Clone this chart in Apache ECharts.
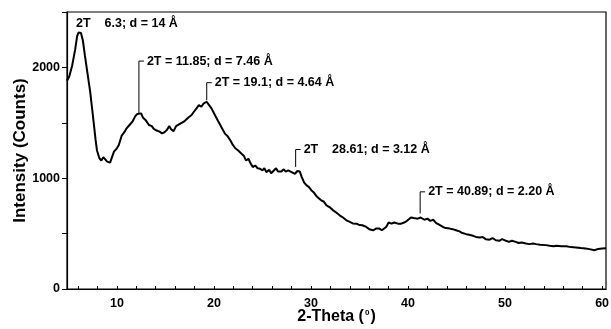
<!DOCTYPE html>
<html>
<head>
<meta charset="utf-8">
<script src="https://cdn.jsdelivr.net/npm/echarts@6/dist/echarts.min.js"></script>
<style>
  html, body { margin: 0; padding: 0; background: #fff; }
  #chart { width: 611px; height: 329px; }
</style>
</head>
<body>
<div id="chart"></div>
<script>
// XRD pattern
const twoTheta = [
  4.86, 5.1, 5.4, 5.7, 5.9, 6.05, 6.3, 6.5, 6.7, 6.95, 7.25, 7.6, 7.8, 7.95, 8.2, 8.4, 8.6, 8.8, 9.0, 9.3,
  9.5, 9.7, 10.0, 10.2, 10.5, 10.8, 11.0, 11.3, 11.6, 11.9, 12.1, 12.3, 12.5, 12.7, 13.0, 13.3, 13.6, 13.8,
  14.1, 14.4, 14.65, 14.9, 15.15, 15.4, 15.6, 15.85, 16.1, 16.4, 16.6, 16.9, 17.1, 17.4, 17.7, 17.9, 18.2,
  18.45, 18.7, 18.95, 19.25, 19.5, 19.75, 20.1, 20.4, 20.65, 20.9, 21.15, 21.4, 21.7, 21.95, 22.2, 22.5,
  22.85, 23.1, 23.3, 23.55, 23.8, 24.0, 24.25, 24.5, 24.75, 25.0, 25.2, 25.4, 25.7, 25.9, 26.1, 26.4, 26.6,
  26.95, 27.2, 27.4, 27.65, 27.9, 28.1, 28.35, 28.6, 28.85, 29.05, 29.3, 29.55, 29.8, 30.05, 30.3, 30.55,
  30.8, 31.05, 31.3, 31.6, 31.9, 32.25, 32.6, 32.95, 33.3, 33.65, 34.0, 34.3, 34.7, 35.0, 35.3, 35.7, 36.0,
  36.4, 36.7, 37.05, 37.3, 37.75, 38.0, 38.3, 38.6, 38.95, 39.3, 39.6, 39.9, 40.3, 40.6, 41.0, 41.3, 41.7,
  42.0, 42.3, 42.6, 42.9, 43.2, 43.6, 43.9, 44.3, 44.6, 44.95, 45.3, 45.6, 46.0, 46.3, 46.7, 47.0, 47.4,
  47.7, 48.0, 48.4, 48.7, 49.05, 49.4, 49.7, 50.1, 50.4, 50.7, 51.1, 51.4, 51.7, 52.15, 52.5, 52.9, 53.2,
  53.6, 54.2, 54.6, 55.0, 55.3, 55.8, 56.3, 56.8, 57.3, 57.8, 58.3, 58.7, 59.2, 59.6, 60.0, 60.4
];
const counts = [
  1880, 1920, 2020, 2160, 2280, 2315, 2310, 2240, 2110, 1960, 1780, 1510, 1350, 1250, 1180, 1160, 1190, 1180, 1150, 1140,
  1190, 1240, 1270, 1300, 1385, 1420, 1450, 1480, 1510, 1560, 1580, 1570, 1585, 1545, 1520, 1480, 1470, 1445,
  1430, 1420, 1405, 1415, 1435, 1470, 1440, 1425, 1470, 1485, 1480, 1510, 1505, 1550, 1570, 1595, 1630,
  1660, 1645, 1675, 1690, 1660, 1630, 1570, 1520, 1480, 1440, 1400, 1380, 1340, 1300, 1270, 1250,
  1220, 1200, 1160, 1175, 1130, 1100, 1115, 1090, 1085, 1070, 1090, 1055, 1075, 1045, 1040, 1090, 1060,
  1060, 1080, 1060, 1070, 1060, 1050, 1040, 1065, 1060, 1010, 960, 935, 920, 890, 870, 840,
  820, 800, 790, 755, 740, 712, 690, 665, 645, 620, 605, 592, 590, 577, 575, 560, 540,
  530, 545, 545, 530, 560, 600, 590, 600, 590, 590, 600, 615, 645, 640, 635, 645, 625,
  635, 615, 625, 595, 580, 560, 550, 545, 540, 530, 520, 505, 495, 490, 480, 470, 465,
  470, 450, 445, 460, 440, 435, 450, 435, 425, 435, 425, 415, 420, 410, 405, 410, 405,
  400, 396, 390, 385, 390, 385, 385, 378, 375, 370, 366, 360, 350, 362, 365, 368
];

// tick labels / tick positions
const xLabels = [10, 20, 30, 40, 50, 60];
const xTicks = [6, 8, 10, 12, 14, 16, 18, 20, 22, 24, 26, 28, 30, 32, 34, 36, 38, 40, 42, 44, 46, 48, 50, 52, 54, 56, 58, 60];
const yLabels = [0, 1000, 2000];
const yTicks = [0, 500, 1000, 1500, 2000, 2500];

// peak annotations: leader line from annLow up to annHigh, text to the right
const annX = [5.8, 12.27, 19.26, 28.42, 41.25];
const annLow = [null, 1583, 1703, 1102, 682];
const annHigh = [2400, 2057, 1862, 1259, 877];
const annText = [
  '2T    6.3; d = 14 Å',
  '2T = 11.85; d = 7.46 Å',
  '2T = 19.1; d = 4.64 Å',
  '2T    28.61; d = 3.12 Å',
  '2T = 40.89; d = 2.20 Å'
];

const FONT = "'Liberation Sans', Arial, sans-serif";

const chart = echarts.init(document.getElementById('chart'), null, { renderer: 'canvas' });

const lineData = twoTheta.map((x, i) => [x, counts[i]]);
const annData = annX.map((x, i) => [x, annHigh[i], annLow[i] == null ? annHigh[i] : annLow[i]]);

chart.setOption({
  animation: false,
  backgroundColor: '#fff',
  grid: {
    left: 67, right: 5, top: 12, bottom: 40,
    outerBoundsMode: 'none',
    containLabel: false,
    show: true, borderColor: '#000', borderWidth: 1.2, backgroundColor: 'transparent'
  },
  xAxis: {
    type: 'value', min: 4.86, max: 60.4,
    name: '2-Theta ({sup|0})',
    nameLocation: 'middle', nameGap: 20, nameMoveOverlap: false,
    nameTextStyle: {
      fontFamily: FONT, fontWeight: 'bold', fontSize: 16, color: '#000',
      rich: { sup: { fontFamily: FONT, fontWeight: 'bold', fontSize: 8, color: '#000', verticalAlign: 'top', padding: [0, 1, 7, 1] } }
    },
    axisLine: { show: true, lineStyle: { color: '#000', width: 1.2 } },
    axisTick: { show: true, inside: true, length: 3, customValues: xTicks, lineStyle: { color: '#000' } },
    axisLabel: {
      customValues: xLabels, margin: 8, fontFamily: FONT, fontWeight: 'bold', fontSize: 12.5, color: '#000',
      formatter: (v) => String(v)
    },
    splitLine: { show: false }
  },
  yAxis: {
    type: 'value', min: 0, max: 2500,
    name: 'Intensity (Counts)',
    nameLocation: 'middle', nameGap: 38, nameRotate: 90, nameMoveOverlap: false,
    nameTextStyle: { fontFamily: FONT, fontWeight: 'bold', fontSize: 17, color: '#000' },
    axisLine: { show: true, lineStyle: { color: '#000', width: 1.2 } },
    axisTick: { show: true, inside: false, length: 5, customValues: yTicks, lineStyle: { color: '#000' } },
    axisLabel: {
      customValues: yLabels, margin: 7, fontFamily: FONT, fontWeight: 'bold', fontSize: 12.5, color: '#000',
      formatter: (v) => String(v)
    },
    splitLine: { show: false }
  },
  series: [
    {
      type: 'line',
      data: lineData,
      showSymbol: false,
      smooth: false,
      lineStyle: { color: '#000', width: 2 },
      z: 3
    },
    {
      type: 'custom',
      data: annData,
      clip: false,
      z: 4,
      renderItem: function (params, api) {
        const i = params.dataIndex;
        const top = api.coord([api.value(0), api.value(1)]);
        const bottom = api.coord([api.value(0), api.value(2)]);
        const hasLine = annLow[i] != null;
        const children = [];
        if (hasLine) {
          children.push({
            type: 'polyline',
            shape: { points: [[bottom[0], bottom[1]], [top[0], top[1]], [top[0] + 5, top[1]]] },
            style: { stroke: '#000', lineWidth: 1, fill: null }
          });
        }
        children.push({
          type: 'text',
          x: hasLine ? top[0] + 8 : top[0],
          y: top[1],
          style: {
            text: annText[i],
            fill: '#000',
            font: 'bold 12.5px ' + FONT,
            textAlign: 'left',
            textVerticalAlign: 'middle'
          }
        });
        return { type: 'group', children: children };
      }
    }
  ]
});
</script>
</body>
</html>
